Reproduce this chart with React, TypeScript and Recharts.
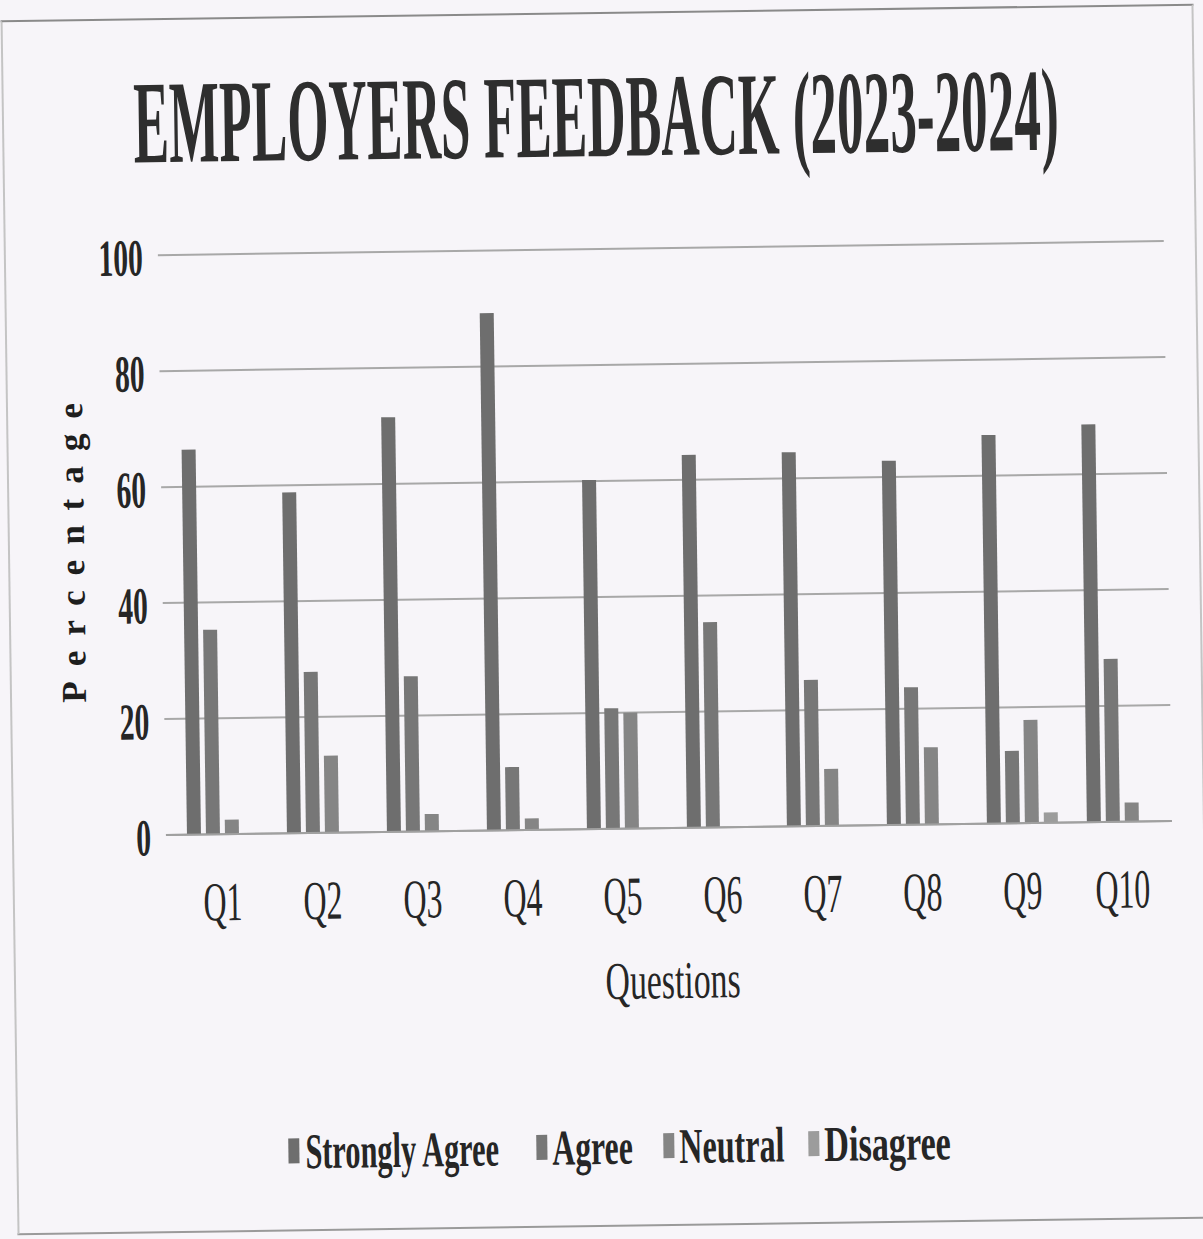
import React from 'react';
import { BarChart, Bar, XAxis, YAxis, CartesianGrid, Legend } from 'recharts';

const questions = ['Q1', 'Q2', 'Q3', 'Q4', 'Q5', 'Q6', 'Q7', 'Q8', 'Q9', 'Q10'];
const stronglyAgree = [66.4, 58.8, 71.5, 89.2, 60.2, 64.3, 64.5, 62.8, 67, 68.6];
const agree = [35.3, 27.8, 26.8, 10.9, 20.8, 35.4, 25.2, 23.7, 12.5, 28.1];
const neutral = [2.5, 13.3, 3.0, 2.0, 20.0, 0, 9.8, 13.3, 17.8, 3.3];
const disagree = [0, 0, 0, 0, 0, 0, 0, 0, 1.8, 0];
const yTicks = [0, 20, 40, 60, 80, 100];
const seriesNames = ['Strongly Agree', 'Agree', 'Neutral', 'Disagree'];

const data = questions.map((q, i) => ({
  question: q,
  stronglyAgree: stronglyAgree[i],
  agree: agree[i],
  neutral: neutral[i],
  disagree: disagree[i],
}));

const FONT = '"Liberation Serif", "Times New Roman", serif';
const INK = '#262626';

// legend item placement, same order as seriesNames (text squeezed horizontally like the print)
const legendSlots = [
  { icon: 281, text: 298, sx: 0.607 },
  { icon: 529, text: 545, sx: 0.634 },
  { icon: 656, text: 672, sx: 0.641 },
  { icon: 801, text: 817, sx: 0.683 },
];

const YTick = (props: any) => {
  const { x, y, payload } = props;
  return (
    <text
      transform={`translate(${x - 15},${y + 20}) scale(0.57,1)`}
      textAnchor="end"
      fontFamily={FONT}
      fontWeight="bold"
      fontSize={52}
      fill={INK}
    >
      {payload.value}
    </text>
  );
};

const XTick = (props: any) => {
  const { x, y, payload } = props;
  return (
    <text
      transform={`translate(${x},${y + 86}) scale(0.58,1)`}
      textAnchor="middle"
      fontFamily={FONT}
      fontSize={55}
      fill={INK}
    >
      {payload.value}
    </text>
  );
};

const renderLegend = (props: any) => {
  const { payload } = props;
  return (
    <svg width={1203} height={60} style={{ display: 'block' }}>
      {payload.map((entry: any) => {
        const slot = legendSlots[seriesNames.indexOf(entry.value)];
        if (!slot) return null;
        return (
          <g key={entry.value}>
            <rect x={slot.icon} y={15} width={11} height={25} fill={entry.color} />
            <text
              transform={`translate(${slot.text},45) scale(${slot.sx},1)`}
              fontFamily={FONT}
              fontWeight="bold"
              fontSize={50}
              fill={INK}
            >
              {entry.value}
            </text>
          </g>
        );
      })}
    </svg>
  );
};

export default function App() {
  return (
    <div style={{ position: 'absolute', left: 0, top: 0, width: 1203, height: 1239, background: '#f7f5f9', overflow: 'hidden' }}>
      <div style={{ position: 'absolute', left: 0, top: 0, width: 1203, height: 1239, transform: 'rotate(-0.8deg)' }}>
        <div
          style={{
            position: 'absolute',
            left: 9,
            top: 12,
            width: 1189,
            height: 1211,
            borderTop: '2px solid #8a8a8a',
            borderBottom: '2px solid #9a9a9a',
            borderLeft: '2px solid #c4c4c4',
            borderRight: '2px solid #c4c4c4',
          }}
        />
        <BarChart
          width={1203}
          height={1239}
          data={data}
          margin={{ top: 249, right: 34, bottom: 120, left: 0 }}
          barGap={5}
        >
          <text
            transform="translate(603,156) scale(0.451,1)"
            textAnchor="middle"
            fontFamily={FONT}
            fontWeight="bold"
            fontSize={118}
            fill="#2e2e2e"
          >
            EMPLOYERS FEEDBACK (2023-2024)
          </text>
          <text
            transform="translate(85,538) rotate(-90)"
            textAnchor="middle"
            letterSpacing={15}
            fontFamily={FONT}
            fontWeight="bold"
            fontSize={35}
            fill="#1e1e1e"
          >
            Percentage
          </text>
          <text
            transform="translate(668,999) scale(0.637,1)"
            textAnchor="middle"
            fontFamily={FONT}
            fontSize={53}
            fill={INK}
          >
            Questions
          </text>
          <CartesianGrid vertical={false} stroke="#a8a8a8" strokeWidth={2} />
          <XAxis
            dataKey="question"
            height={290}
            padding={{ left: 6, right: 0 }}
            tickLine={false}
            tickSize={0}
            tickMargin={0}
            axisLine={{ stroke: '#a0a0a0', strokeWidth: 2 }}
            tick={<XTick />}
            interval={0}
          />
          <YAxis
            width={163}
            domain={[0, 100]}
            ticks={yTicks}
            axisLine={false}
            tickLine={false}
            tickSize={0}
            tickMargin={0}
            tick={<YTick />}
          />
          <Legend
            verticalAlign="middle"
            align="center"
            layout="horizontal"
            itemSorter={null}
            content={renderLegend}
            wrapperStyle={{ top: 1119, left: 0, width: 1203, height: 60 }}
          />
          <Bar dataKey="stronglyAgree" name={seriesNames[0]} fill="#6e6e6e" barSize={14} isAnimationActive={false} />
          <Bar dataKey="agree" name={seriesNames[1]} fill="#777777" barSize={14} isAnimationActive={false} />
          <Bar dataKey="neutral" name={seriesNames[2]} fill="#858585" barSize={14} isAnimationActive={false} />
          <Bar dataKey="disagree" name={seriesNames[3]} fill="#9c9c9c" barSize={14} isAnimationActive={false} />
        </BarChart>
      </div>
    </div>
  );
}
